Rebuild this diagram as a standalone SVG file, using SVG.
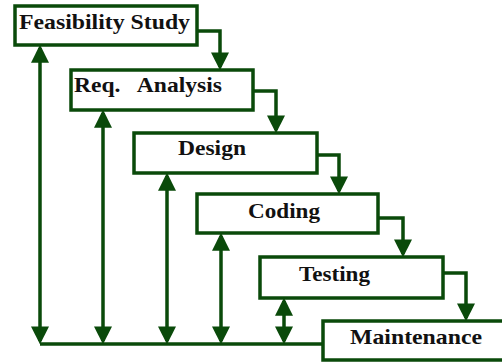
<svg xmlns="http://www.w3.org/2000/svg" width="502" height="362" viewBox="0 0 502 362">
<style>
.box{fill:#fff;stroke:#0a4a0a;stroke-width:3.5}
.lbl{font-family:"Liberation Serif","Times New Roman",serif;font-weight:bold;font-size:21px;fill:#111}
.ln{fill:none;stroke:#0a4a0a;stroke-width:3.5}
</style>
<defs>
<marker id="ah" markerUnits="userSpaceOnUse" markerWidth="18" markerHeight="18" viewBox="0 0 16 16" refX="13" refY="8" orient="auto-start-reverse">
<path d="M0,0 L16,8 L0,16 Z" fill="#0a4a0a"/>
</marker>
</defs>
<rect width="502" height="362" fill="#fff"/>
<g id="connectors">
<path class="ln" d="M197,31 H220 V67" marker-end="url(#ah)"/>
<path class="ln" d="M253,91 H276 V130" marker-end="url(#ah)"/>
<path class="ln" d="M317,155 H339 V191" marker-end="url(#ah)"/>
<path class="ln" d="M378,218 H403 V254" marker-end="url(#ah)"/>
<path class="ln" d="M443,273 H466 V318" marker-end="url(#ah)"/>
<path class="ln" d="M40,344 H323"/>
<line class="ln" x1="40" y1="48" x2="40" y2="341" marker-start="url(#ah)" marker-end="url(#ah)"/>
<line class="ln" x1="103" y1="113" x2="103" y2="341" marker-start="url(#ah)" marker-end="url(#ah)"/>
<line class="ln" x1="167" y1="176" x2="167" y2="341" marker-start="url(#ah)" marker-end="url(#ah)"/>
<line class="ln" x1="221" y1="236" x2="221" y2="341" marker-start="url(#ah)" marker-end="url(#ah)"/>
<line class="ln" x1="284" y1="301" x2="284" y2="341" marker-start="url(#ah)" marker-end="url(#ah)"/>
</g>
<g id="feasibility">
<rect class="box" x="15" y="6" width="182" height="39"/>
<text class="lbl" x="19" y="29" textLength="171" lengthAdjust="spacingAndGlyphs">Feasibility Study</text>
</g>
<g id="req">
<rect class="box" x="71" y="70" width="182" height="40"/>
<text class="lbl" x="74" y="92" xml:space="preserve" textLength="148" lengthAdjust="spacingAndGlyphs">Req.   Analysis</text>
</g>
<g id="design">
<rect class="box" x="134" y="133" width="183" height="40"/>
<text class="lbl" x="178" y="155" textLength="68" lengthAdjust="spacingAndGlyphs">Design</text>
</g>
<g id="coding">
<rect class="box" x="197" y="194" width="181" height="39"/>
<text class="lbl" x="248" y="218" textLength="72" lengthAdjust="spacingAndGlyphs">Coding</text>
</g>
<g id="testing">
<rect class="box" x="260" y="257" width="183" height="41"/>
<text class="lbl" x="299" y="281" textLength="71" lengthAdjust="spacingAndGlyphs">Testing</text>
</g>
<g id="maintenance">
<rect class="box" x="323" y="321" width="190" height="39"/>
<text class="lbl" x="350" y="344" textLength="132" lengthAdjust="spacingAndGlyphs">Maintenance</text>
</g>
</svg>
